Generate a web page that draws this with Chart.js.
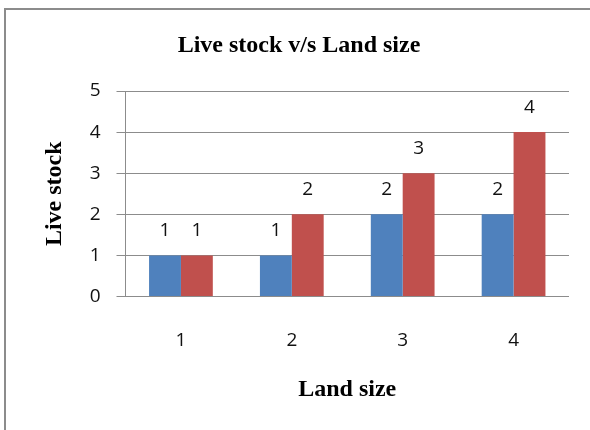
<!DOCTYPE html>
<html>
<head>
<meta charset="utf-8">
<script src="https://cdn.jsdelivr.net/npm/chart.js@4/dist/chart.umd.min.js"></script>
<style>
  html, body { margin: 0; padding: 0; background: #fff; }
  #wrap { position: relative; width: 590px; height: 430px; overflow: hidden; }
  #frame {
    position: absolute; left: 4px; top: 8px; width: 640px; height: 480px;
    border: 2px solid #8c8c8c; box-sizing: border-box; pointer-events: none;
  }
  canvas { position: absolute; left: 0; top: 0; }
</style>
</head>
<body>
<div id="wrap">
  <div id="frame"></div>
  <canvas id="chart" width="590" height="430"></canvas>
</div>
<script>
// Land size categories and the two livestock series
const landSizes = ['1', '2', '3', '4'];
const seriesA = [1, 1, 2, 2];
const seriesB = [1, 2, 3, 4];
const yTicks = [0, 1, 2, 3, 4, 5];

const sansFont = "'Open Sans', 'Liberation Sans', sans-serif";
const serifFont = "'Liberation Serif', 'DejaVu Serif', serif";
const gridGray = '#8c8c8c';
const textDark = '#111';

// Writes each bar's value just above the bar
const valueLabels = {
  id: 'valueLabels',
  afterDatasetsDraw(chart) {
    const { ctx } = chart;
    ctx.save();
    ctx.font = '19px ' + sansFont;
    ctx.fillStyle = textDark;
    ctx.textAlign = 'center';
    ctx.textBaseline = 'middle';
    chart.data.datasets.forEach((ds, i) => {
      chart.getDatasetMeta(i).data.forEach((bar, j) => {
        ctx.fillText(String(ds.data[j]), bar.x, bar.y - 25);
      });
    });
    ctx.restore();
  }
};

new Chart(document.getElementById('chart'), {
  type: 'bar',
  data: {
    labels: landSizes,
    datasets: [
      { data: seriesA, backgroundColor: '#4f81bd', borderWidth: 0 },
      { data: seriesB, backgroundColor: '#c0504d', borderWidth: 0 }
    ]
  },
  options: {
    responsive: false,
    animation: false,
    events: [],
    layout: { padding: { left: 29, right: 21, top: 0, bottom: 0 } },
    categoryPercentage: 0.575,
    barPercentage: 1.0,
    plugins: {
      legend: { display: false },
      tooltip: { enabled: false },
      title: {
        display: true,
        text: 'Live stock v/s Land size',
        color: '#000',
        font: { family: serifFont, size: 24, weight: 'bold', lineHeight: 1.2 },
        padding: { top: 31, bottom: 31.2 }
      }
    },
    scales: {
      x: {
        grid: { display: false, drawTicks: false },
        border: { display: false },
        ticks: { color: textDark, font: { family: sansFont, size: 19 }, padding: 32.5 },
        title: {
          display: true,
          text: 'Land size',
          color: '#000',
          font: { family: serifFont, size: 24, weight: 'bold', lineHeight: 1.2 },
          padding: { top: 0, bottom: 25.6 }
        },
        afterFit(scale) { scale.height = 133.5; }
      },
      y: {
        min: 0,
        max: 5,
        afterBuildTicks(scale) { scale.ticks = yTicks.map(v => ({ value: v })); },
        grid: { color: gridGray, lineWidth: 1, drawTicks: true, tickLength: 9, tickColor: gridGray },
        border: { display: true, color: gridGray, width: 1 },
        ticks: { color: textDark, font: { family: sansFont, size: 19 }, padding: 16 },
        title: {
          display: true,
          text: 'Live stock',
          color: '#000',
          font: { family: serifFont, size: 24, weight: 'bold', lineHeight: 1.2 },
          padding: { top: 11.6, bottom: 0 }
        },
        afterFit(scale) { scale.width = 96.5; }
      }
    }
  },
  plugins: [valueLabels]
});
</script>
</body>
</html>
